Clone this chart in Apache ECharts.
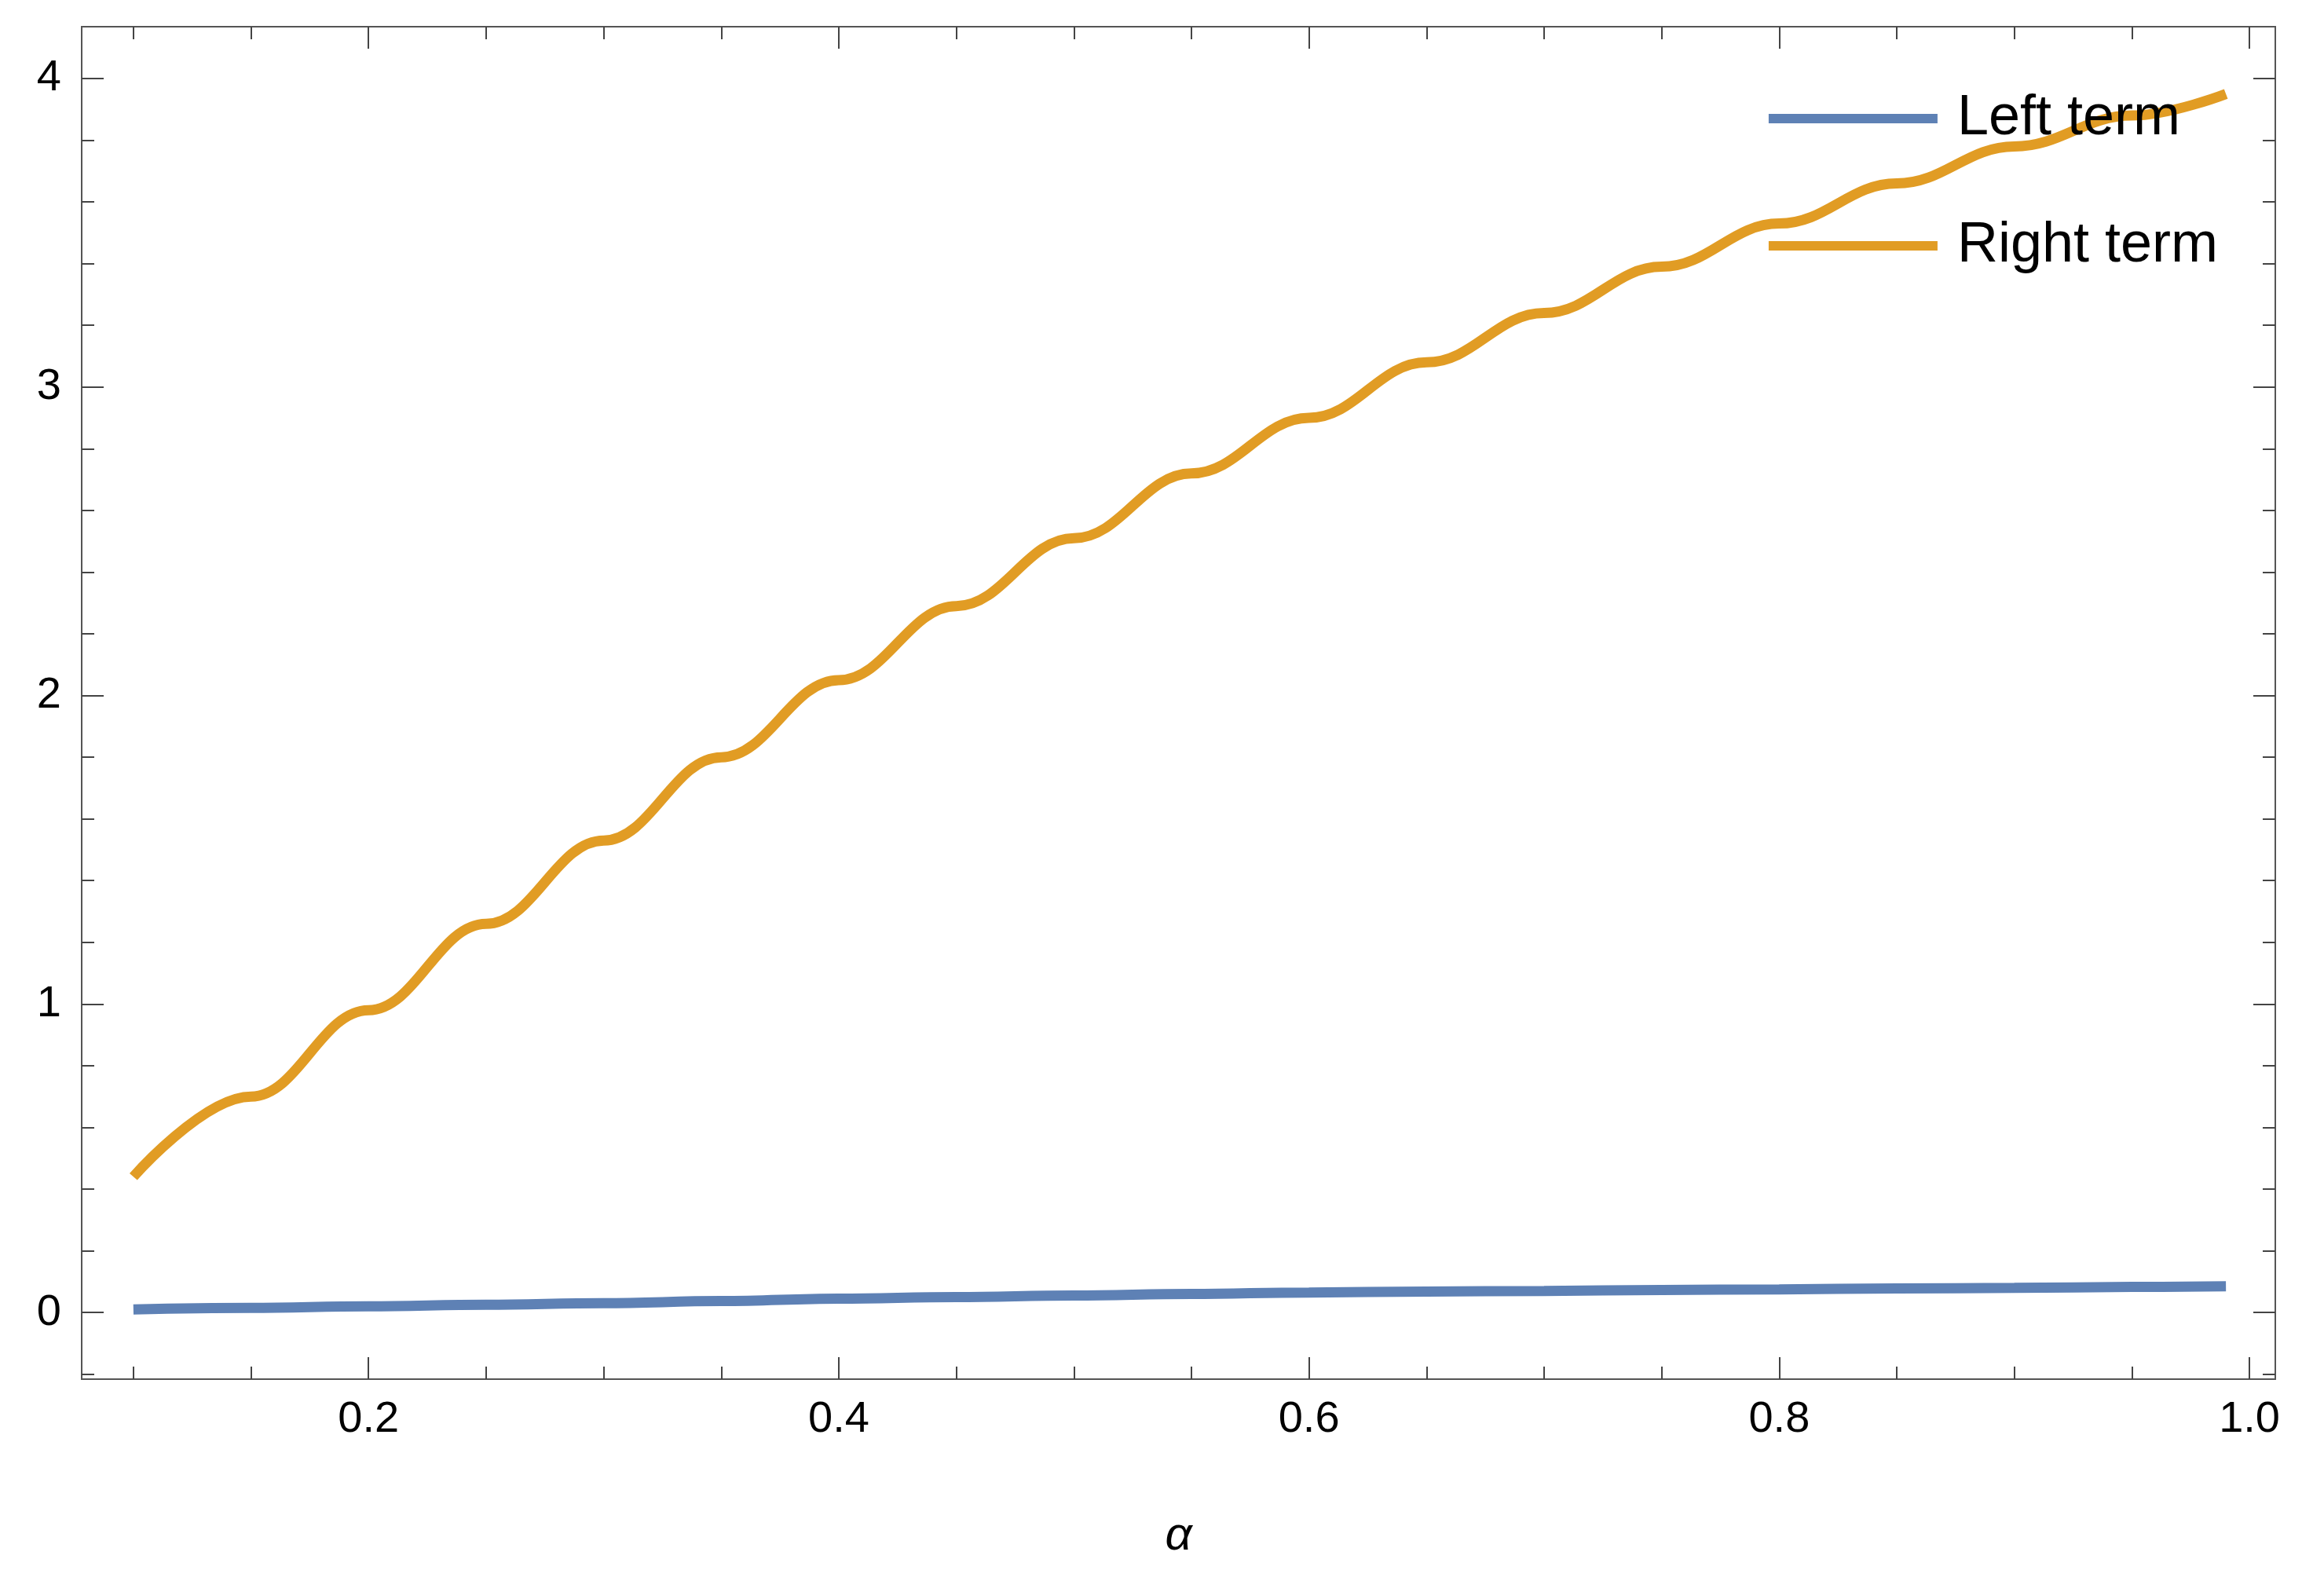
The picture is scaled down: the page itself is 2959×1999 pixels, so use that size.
<!DOCTYPE html>
<html>
<head>
<meta charset="utf-8">
<script src="https://cdn.jsdelivr.net/npm/echarts@6/dist/echarts.min.js"></script>
<style>html,body{margin:0;padding:0;background:#fff}#chart{width:2959px;height:1999px}</style>
</head>
<body>
<div id="chart"></div>
<script>
const alphaValues = [0.1, 0.15, 0.2, 0.25, 0.3, 0.35, 0.4, 0.45, 0.5, 0.55, 0.6, 0.65, 0.7, 0.75, 0.8, 0.85, 0.9, 0.95, 0.99];
const leftTerm = [0.01, 0.015, 0.02, 0.025, 0.03, 0.037, 0.045, 0.05, 0.055, 0.06, 0.065, 0.068, 0.07, 0.073, 0.075, 0.078, 0.08, 0.083, 0.085];
const rightTerm = [0.44, 0.70, 0.98, 1.26, 1.53, 1.80, 2.05, 2.29, 2.51, 2.72, 2.90, 3.08, 3.24, 3.39, 3.53, 3.66, 3.78, 3.88, 3.95];
const xMajor = [0.2, 0.4, 0.6, 0.8, 1.0];
const xMinor = [0.1, 0.15, 0.25, 0.3, 0.35, 0.45, 0.5, 0.55, 0.65, 0.7, 0.75, 0.85, 0.9, 0.95];
const yMajor = [0, 1, 2, 3, 4];
const yMinor = [-0.2, 0.2, 0.4, 0.6, 0.8, 1.2, 1.4, 1.6, 1.8, 2.2, 2.4, 2.6, 2.8, 3.2, 3.4, 3.6, 3.8, 4.0];

const X_MIN = 0.078, X_MAX = 1.011, Y_MIN = -0.216, Y_MAX = 4.168;
const font = 'Liberation Sans';

function xAx(pos, ticks, len, labels) {
  return {
    type: 'value', min: X_MIN, max: X_MAX, position: pos,
    axisLine: { show: false, onZero: false }, splitLine: { show: false },
    axisTick: { show: true, inside: true, length: len, customValues: ticks, lineStyle: { color: '#444', width: 2 } },
    axisLabel: labels ? { show: true, customValues: ticks, fontSize: 56, color: '#000', fontFamily: font, margin: 24,
      formatter: v => v.toFixed(1) } : { show: false }
  };
}
function yAx(pos, ticks, len, labels) {
  return {
    type: 'value', min: Y_MIN, max: Y_MAX, position: pos,
    axisLine: { show: false, onZero: false }, splitLine: { show: false },
    axisTick: { show: true, inside: true, length: len, customValues: ticks, lineStyle: { color: '#444', width: 2 } },
    axisLabel: labels ? { show: true, customValues: ticks, fontSize: 56, color: '#000', fontFamily: font, margin: 26,
      formatter: v => String(v) } : { show: false }
  };
}

const chart = echarts.init(document.getElementById('chart'));
chart.setOption({
  animation: false,
  backgroundColor: '#fff',
  grid: { left: 104, right: 47 + 15, top: 34, bottom: 243, show: true, borderColor: '#555', borderWidth: 2, backgroundColor: 'transparent' },
  legend: {
    right: 130, top: 110, orient: 'vertical', itemGap: 90, itemWidth: 215, itemHeight: 12,
    icon: 'rect', textStyle: { fontSize: 72, fontFamily: font, color: '#000', padding: [0, 0, 0, 20] },
    data: ['Left term', 'Right term']
  },
  xAxis: [
    Object.assign(xAx('bottom', xMajor, 28, true), {
      name: 'α', nameLocation: 'middle', nameGap: 170,
      nameTextStyle: { fontSize: 60, fontStyle: 'italic', fontFamily: font, color: '#000' }
    }),
    xAx('bottom', xMinor, 16, false),
    xAx('top', xMajor, 28, false),
    xAx('top', xMinor, 16, false)
  ],
  yAxis: [
    yAx('left', yMajor, 28, true),
    yAx('left', yMinor, 16, false),
    yAx('right', yMajor, 28, false),
    yAx('right', yMinor, 16, false)
  ],
  series: [
    { name: 'Left term', type: 'line', smooth: 0.4, smoothMonotone: 'x', showSymbol: false, color: '#5e81b5',
      lineStyle: { width: 13, color: '#5e81b5' }, data: alphaValues.map((a, i) => [a, leftTerm[i]]) },
    { name: 'Right term', type: 'line', smooth: 0.4, smoothMonotone: 'x', showSymbol: false, color: '#e19c24',
      lineStyle: { width: 13, color: '#e19c24' }, data: alphaValues.map((a, i) => [a, rightTerm[i]]) }
  ]
});
</script>
</body>
</html>
